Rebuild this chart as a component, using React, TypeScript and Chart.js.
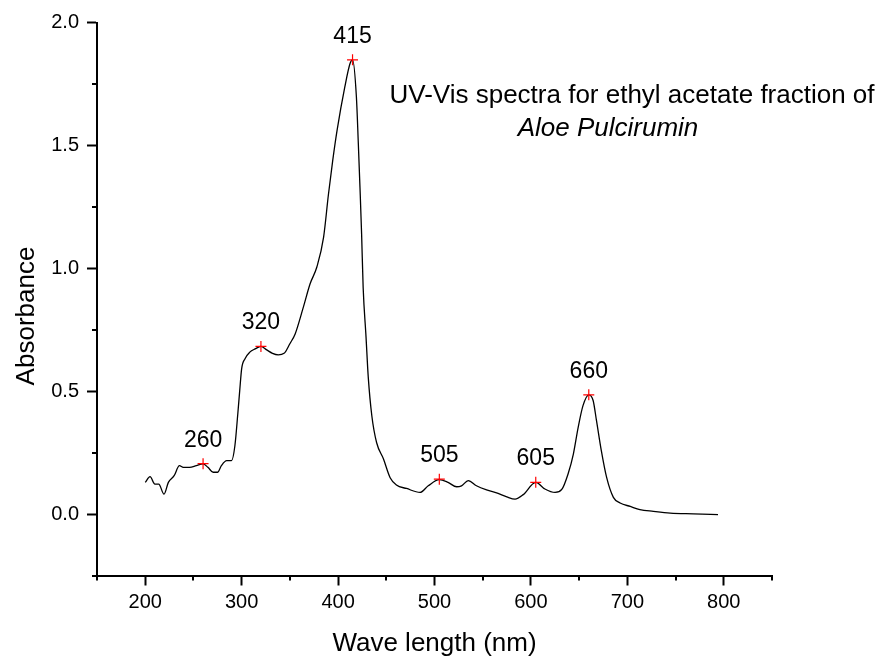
import React, { useEffect, useRef } from "react";
import { Chart, registerables } from "chart.js";

Chart.register(...registerables);

const wavelengths = [
  200, 205, 210, 214, 219.5, 224, 230, 235.5, 239.5, 246, 253, 260, 265, 270.5, 275, 279,
  284.5, 289.5, 293, 296, 298, 300, 303.5, 308.5, 314, 320, 326, 332, 338, 344, 350, 355.5,
  364, 371, 378, 385, 390, 394.5, 399, 407, 412.5, 415, 419, 421, 422.7, 424.4, 426, 429,
  431.3, 435, 440, 447, 454, 460.5, 471, 485, 493.5, 505, 514, 523, 528, 535, 543.5, 554,
  566, 575, 583.5, 592, 605, 614.5, 625, 632, 638.5, 644, 649, 654, 660, 664.5, 668, 673,
  678.5, 685.5, 692.5, 703, 713, 727, 744.5, 768.5, 794,
];
const absorbance = [
  0.129, 0.152, 0.122, 0.122, 0.081, 0.129, 0.156, 0.197, 0.19, 0.19, 0.197, 0.204, 0.19, 0.17, 0.17, 0.197,
  0.217, 0.217, 0.278, 0.407, 0.502, 0.591, 0.632, 0.659, 0.672, 0.682, 0.668, 0.654, 0.648, 0.654, 0.693, 0.733,
  0.842, 0.937, 1.005, 1.127, 1.3, 1.44, 1.562, 1.738, 1.834, 1.848, 1.698, 1.508, 1.331, 1.141, 0.923, 0.72,
  0.557, 0.4, 0.29, 0.225, 0.148, 0.118, 0.104, 0.088, 0.115, 0.14, 0.129, 0.111, 0.115, 0.136, 0.115, 0.098,
  0.084, 0.07, 0.061, 0.079, 0.129, 0.102, 0.088, 0.1, 0.163, 0.244, 0.353, 0.441, 0.485, 0.462, 0.38, 0.258,
  0.149, 0.068, 0.045, 0.031, 0.018, 0.011, 0.004, 0.001, -0.002,
];

const peakWavelengths = [260, 320, 415, 505, 605, 660];
const peakAbsorbance = [0.205, 0.682, 1.848, 0.142, 0.129, 0.485];
const peakLabels = ["260", "320", "415", "505", "605", "660"];

const titleLine1 = "UV-Vis spectra for ethyl acetate fraction of";
const titleLine2 = "Aloe Pulcirumin";
const xAxisTitle = "Wave length (nm)";
const yAxisTitle = "Absorbance";

const FONT = "'Liberation Sans', Arial, Helvetica, sans-serif";

const isMultiple = (v: number, step: number) => Math.abs(v / step - Math.round(v / step)) < 1e-6;

const annotationsPlugin = {
  id: "annotations",
  afterDraw(chart: any) {
    const { ctx, chartArea, scales } = chart;
    const xs = scales.x;
    const ys = scales.y;
    ctx.save();
    // minor ticks
    ctx.strokeStyle = "#000";
    ctx.lineWidth = 2;
    ctx.beginPath();
    for (let v = 150; v <= 850; v += 50) {
      if (!isMultiple(v, 100)) {
        const px = Math.round(xs.getPixelForValue(v));
        ctx.moveTo(px, chartArea.bottom);
        ctx.lineTo(px, chartArea.bottom + 5);
      }
    }
    for (let v = -0.25; v <= 2.0001; v += 0.25) {
      if (!isMultiple(v, 0.5)) {
        const py = Math.round(ys.getPixelForValue(v));
        ctx.moveTo(chartArea.left, py);
        ctx.lineTo(chartArea.left - 5, py);
      }
    }
    ctx.stroke();

    ctx.fillStyle = "#000";
    // peak labels
    ctx.font = `23px ${FONT}`;
    ctx.textAlign = "center";
    ctx.textBaseline = "alphabetic";
    peakWavelengths.forEach((w, i) => {
      const px = xs.getPixelForValue(w);
      const py = ys.getPixelForValue(peakAbsorbance[i]);
      ctx.fillText(peakLabels[i], px, py - 17);
    });

    // title
    ctx.font = `26px ${FONT}`;
    ctx.fillText(titleLine1, 632, 103);
    ctx.font = `italic 26px ${FONT}`;
    ctx.fillText(titleLine2, 608, 135.5);

    // axis titles
    ctx.font = `26px ${FONT}`;
    ctx.fillText(xAxisTitle, (chartArea.left + chartArea.right) / 2, 651);
    ctx.translate(34, 316);
    ctx.rotate(-Math.PI / 2);
    ctx.fillText(yAxisTitle, 0, 0);
    ctx.restore();
  },
};

export default function App() {
  const canvasRef = useRef<HTMLCanvasElement | null>(null);

  useEffect(() => {
    if (!canvasRef.current) return;
    const lineData = wavelengths.map((w, i) => ({ x: w, y: absorbance[i] }));
    const peakData = peakWavelengths.map((w, i) => ({ x: w, y: peakAbsorbance[i] }));

    const chart = new Chart(canvasRef.current, {
      type: "line",
      data: {
        datasets: [
          {
            data: peakData,
            showLine: false,
            pointStyle: "cross",
            pointRadius: 5.5,
            pointBorderColor: "#ff0000",
            pointBorderWidth: 1.2,
            borderColor: "#ff0000",
            order: 1,
          },
          {
            data: lineData,
            borderColor: "#000",
            borderWidth: 1.3,
            pointRadius: 0,
            cubicInterpolationMode: "monotone",
            fill: false,
            order: 2,
          },
        ],
      },
      options: {
        animation: false,
        responsive: false,
        devicePixelRatio: 1,
        layout: { padding: { left: 0, right: 112, top: 22.5, bottom: 0 } },
        plugins: { legend: { display: false }, tooltip: { enabled: false }, title: { display: false } },
        scales: {
          x: {
            type: "linear",
            min: 150,
            max: 850,
            ticks: {
              stepSize: 50,
              autoSkip: false,
              maxRotation: 0,
              padding: 5,
              color: "#000",
              font: { family: FONT, size: 20 },
              callback: (v: any) => (isMultiple(v, 100) && v >= 200 && v <= 800 ? String(v) : ""),
            },
            grid: {
              drawOnChartArea: false,
              drawTicks: true,
              tickLength: 10,
              tickWidth: 2,
              tickColor: (c: any) => (c.tick && isMultiple(c.tick.value, 100) ? "#000" : "rgba(0,0,0,0)"),
            },
            border: { display: true, color: "#000", width: 2 },
            afterFit: (s: any) => {
              s.height = 83.5;
            },
          },
          y: {
            type: "linear",
            min: -0.25,
            max: 2.0,
            ticks: {
              stepSize: 0.25,
              autoSkip: false,
              padding: 8,
              color: "#000",
              font: { family: FONT, size: 20 },
              callback: (v: any) => (isMultiple(v, 0.5) ? Number(v).toFixed(1) : ""),
            },
            grid: {
              drawOnChartArea: false,
              drawTicks: true,
              tickLength: 10,
              tickWidth: 2,
              tickColor: (c: any) => (c.tick && isMultiple(c.tick.value, 0.5) ? "#000" : "rgba(0,0,0,0)"),
            },
            border: { display: true, color: "#000", width: 2 },
            afterFit: (s: any) => {
              s.width = 97;
            },
          },
        },
      },
      plugins: [annotationsPlugin],
    });
    return () => chart.destroy();
  }, []);

  return (
    <div style={{ position: "fixed", left: 0, top: 0, width: 884, height: 659, background: "#fff" }}>
      <canvas ref={canvasRef} width={884} height={659} />
    </div>
  );
}
